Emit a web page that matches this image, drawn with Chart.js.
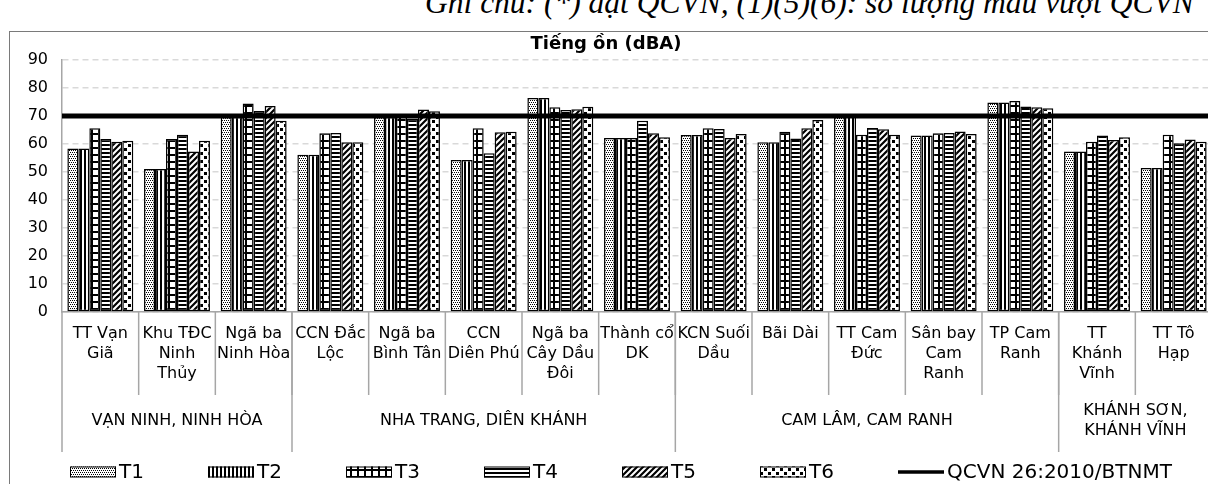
<!DOCTYPE html>
<html><head><meta charset="utf-8">
<script src="https://cdn.jsdelivr.net/npm/chart.js@4/dist/chart.umd.min.js"></script>
<style>
html,body{margin:0;padding:0;background:#fff;overflow:hidden;width:1208px;height:484px;}
#wrap{position:relative;width:1208px;height:484px;overflow:hidden;}
#note{position:absolute;left:425px;top:-12px;font:italic 31.5px "Liberation Serif",serif;line-height:30px;white-space:nowrap;color:#000;}
#frame{position:absolute;left:9px;top:31px;width:1300px;height:600px;border-left:1px solid #7a7a7a;border-top:1px solid #7a7a7a;}
#c{position:absolute;left:0;top:0;}
</style></head>
<body><div id="wrap">
<div id="note">Ghi chú: (*) đạt QCVN, (1)(5)(6): số lượng mẫu vượt QCVN</div>
<div id="frame"></div>
<canvas id="c" width="1228" height="484"></canvas>
</div>
<script>
const titleText = 'Tiếng ồn (dBA)';
const categories = [
  ['TT Vạn','Giã'], ['Khu TĐC','Ninh','Thủy'], ['Ngã ba','Ninh Hòa'],
  ['CCN Đắc','Lộc'], ['Ngã ba','Bình Tân'], ['CCN','Diên Phú'], ['Ngã ba','Cây Dầu','Đôi'], ['Thành cổ','DK'],
  ['KCN Suối','Dầu'], ['Bãi Dài'], ['TT Cam','Đức'], ['Sân bay','Cam','Ranh'], ['TP Cam','Ranh'],
  ['TT','Khánh','Vĩnh'], ['TT Tô','Hạp']
];
const groupNames = [['VẠN NINH, NINH HÒA'], ['NHA TRANG, DIÊN KHÁNH'], ['CAM LÂM, CAM RANH'], ['KHÁNH SƠN,','KHÁNH VĨNH']];
const groupSizes = [3, 5, 5, 2];
const seriesNames = ['T1','T2','T3','T4','T5','T6'];
const t1 = [58.4, 51.1, 69.7, 56.2, 69.7, 54.3, 76.4, 62.1, 63.2, 60.6, 69.8, 63.0, 74.8, 57.3, 51.4];
const t2 = [58.4, 51.1, 69.7, 56.2, 69.7, 54.3, 76.4, 62.1, 63.2, 60.6, 69.8, 63.0, 74.8, 57.3, 51.4];
const t3 = [65.6, 61.8, 74.5, 63.8, 70.0, 65.6, 73.1, 62.1, 65.6, 64.4, 63.3, 63.8, 75.4, 60.8, 63.3];
const t4 = [61.8, 63.3, 71.8, 63.9, 69.0, 56.7, 72.1, 68.3, 65.4, 62.0, 65.7, 63.9, 73.4, 63.0, 60.3];
const t5 = [60.8, 57.3, 73.6, 60.6, 72.3, 64.2, 72.4, 63.8, 62.1, 65.6, 65.3, 64.5, 73.1, 61.4, 61.6];
const t6 = [61.2, 61.2, 68.3, 60.6, 71.7, 64.4, 73.3, 62.4, 63.6, 68.6, 63.3, 63.6, 72.8, 62.4, 60.8];
const qcvnName = 'QCVN 26:2010/BTNMT';
const qcvnLimit = [70];
const yMin = 0, yMax = 90, yStep = 10;

const FONT = "'DejaVu Sans', sans-serif";

function tile(w, h, draw) {
  const c = document.createElement('canvas'); c.width = w; c.height = h;
  const g = c.getContext('2d'); g.fillStyle = '#fff'; g.fillRect(0,0,w,h); g.fillStyle = '#000'; g.strokeStyle = '#000';
  draw(g); return c;
}
const tiles = [
  tile(4,4,g=>{g.fillRect(0,0,1,1);g.fillRect(2,0,1,1);g.fillRect(1,2,1,1);g.fillRect(3,2,1,1);}),
  tile(4,4,g=>{g.fillRect(0,0,2,4);}),
  tile(7,7,g=>{g.fillRect(0,0,7,2);g.fillRect(0,0,2,7);}),
  tile(4,4,g=>{g.fillRect(0,0,4,2);}),
  tile(6,6,g=>{g.lineWidth=2.2;g.beginPath();g.moveTo(-1,7);g.lineTo(7,-1);g.moveTo(-4,4);g.lineTo(4,-4);g.moveTo(2,10);g.lineTo(10,2);g.stroke();}),
  tile(8,8,g=>{g.fillRect(0,0,3,3);g.fillRect(4,4,3,3);})
];
const ctx0 = document.getElementById('c').getContext('2d');
const patterns = tiles.map(t => ctx0.createPattern(t, 'repeat'));
const seriesData = [t1, t2, t3, t4, t5, t6];

const datasets = seriesData.map((d, i) => ({
  type: 'bar', label: seriesNames[i], data: d,
  backgroundColor: patterns[i], borderColor: '#000', borderWidth: 1.5, borderSkipped: false,
  barPercentage: 1.0, categoryPercentage: 0.86
}));

const SEP_CAT_END = 395, SEP_GRP_END = 452, GRP_Y = 421, LEG_Y = 472;

// QCVN limit line, positioned through the y scale
const limitLine = {
  id: 'limitLine',
  afterDatasetsDraw(chart) {
    const ctx = chart.ctx, a = chart.chartArea, y = chart.scales.y;
    ctx.save();
    ctx.strokeStyle = '#000'; ctx.lineWidth = 5;
    qcvnLimit.forEach(v => {
      const py = y.getPixelForValue(v);
      ctx.beginPath(); ctx.moveTo(a.left, py); ctx.lineTo(a.right, py); ctx.stroke();
    });
    ctx.restore();
  }
};

const decor = {
  id: 'decor',
  afterDraw(chart) {
    const ctx = chart.ctx, x = chart.scales.x, a = chart.chartArea;
    const n = categories.length;
    const bounds = [];
    for (let i = 0; i <= n; i++) {
      if (i === 0) bounds.push(a.left);
      else if (i === n) bounds.push(a.right);
      else bounds.push((x.getPixelForValue(i - 1) + x.getPixelForValue(i)) / 2);
    }
    ctx.save();
    ctx.strokeStyle = '#a6a6a6'; ctx.lineWidth = 1.5;
    for (let i = 1; i <= n; i++) {
      ctx.beginPath(); ctx.moveTo(bounds[i], a.bottom); ctx.lineTo(bounds[i], SEP_CAT_END); ctx.stroke();
    }
    let idx = 0; const gb = [0];
    groupSizes.forEach(s => { idx += s; gb.push(idx); });
    gb.forEach(k => { ctx.beginPath(); ctx.moveTo(bounds[k], a.bottom); ctx.lineTo(bounds[k], SEP_GRP_END); ctx.stroke(); });
    ctx.fillStyle = '#000'; ctx.font = '16px ' + FONT; ctx.textAlign = 'center'; ctx.textBaseline = 'middle';
    groupNames.forEach((lines, g) => {
      const cx = (bounds[gb[g]] + bounds[gb[g + 1]]) / 2;
      const lh = 20, y0 = GRP_Y - (lines.length - 1) * lh / 2;
      lines.forEach((t, j) => ctx.fillText(t, cx, y0 + j * lh));
    });
    // legend
    const boxW = 46, boxH = 11, gapTxt = 3;
    ctx.font = '20px ' + FONT;
    ctx.textAlign = 'left';
    const items = seriesNames.map((s, i) => ({label: s, pat: patterns[i]}));
    items.push({label: qcvnName, line: true});
    const widths = items.map(it => boxW + gapTxt + ctx.measureText(it.label).width);
    const startX = 70, lineStartX = 898;
    const smallTotal = widths.slice(0, 6).reduce((p, c) => p + c, 0);
    const gap = (lineStartX - startX - smallTotal) / 6;
    let lx = startX;
    items.forEach((it, i) => {
      if (it.line) {
        ctx.strokeStyle = '#000'; ctx.lineWidth = 3.5;
        ctx.beginPath(); ctx.moveTo(lx, LEG_Y); ctx.lineTo(lx + boxW, LEG_Y); ctx.stroke();
      } else {
        ctx.fillStyle = it.pat; ctx.fillRect(lx, LEG_Y - boxH / 2, boxW, boxH);
        ctx.strokeStyle = '#000'; ctx.lineWidth = 1; ctx.strokeRect(lx + 0.5, LEG_Y - boxH / 2 + 0.5, boxW - 1, boxH - 1);
      }
      ctx.fillStyle = '#000';
      ctx.fillText(it.label, lx + boxW + gapTxt, LEG_Y + 1);
      lx += widths[i] + gap;
    });
    ctx.restore();
  }
};

new Chart(document.getElementById('c'), {
  type: 'bar',
  data: { labels: categories, datasets },
  options: {
    responsive: false, animation: false,
    layout: { padding: { left: 0, right: 16, top: 0, bottom: 0 } },
    plugins: {
      legend: { display: false }, tooltip: { enabled: false },
      title: { display: true, text: titleText, color: '#000', font: { family: FONT, size: 18, weight: 'bold' }, padding: { top: 34, bottom: 4.4 } }
    },
    scales: {
      x: {
        type: 'category', offset: true,
        grid: { display: false, drawTicks: false },
        border: { display: true, color: '#a6a6a6', width: 1.5 },
        ticks: { color: '#000', font: { family: FONT, size: 16, lineHeight: 1.25 }, padding: 12, maxRotation: 0, autoSkip: false },
        afterFit: s => { s.height = 172; }
      },
      y: {
        min: yMin, max: yMax,
        ticks: { stepSize: yStep, color: '#000', font: { family: FONT, size: 16 }, padding: 14 },
        grid: { color: '#d9d9d9', lineWidth: 1.5, drawTicks: false },
        border: { display: true, color: '#a6a6a6', width: 1.5, dash: [6, 4] },
        afterFit: s => { s.width = 62; }
      }
    }
  },
  plugins: [limitLine, decor]
});
</script>
</body></html>
